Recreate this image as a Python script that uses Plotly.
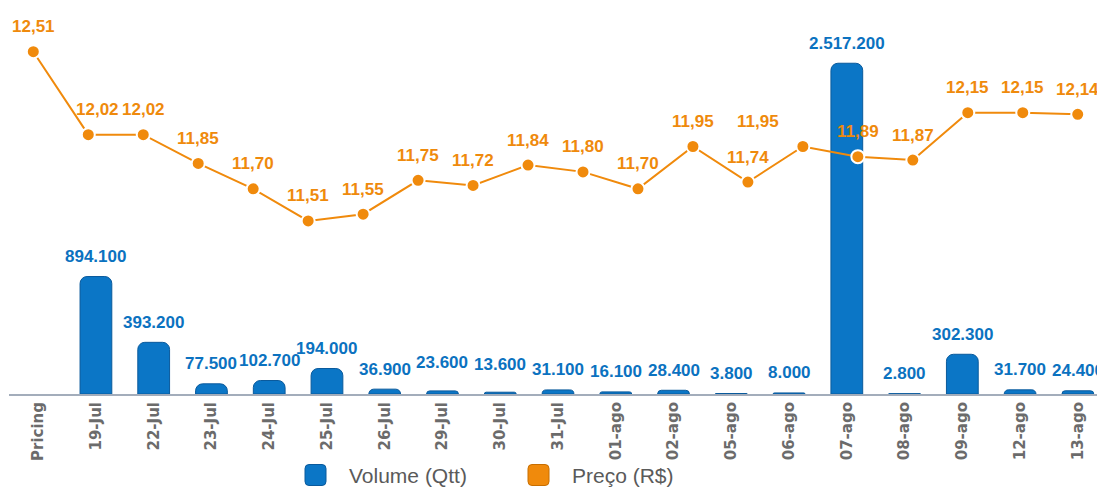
import plotly.graph_objects as go

# ---------------- data ----------------
categories = ["Pricing", "19-Jul", "22-Jul", "23-Jul", "24-Jul", "25-Jul", "26-Jul",
              "29-Jul", "30-Jul", "31-Jul", "01-ago", "02-ago", "05-ago", "06-ago",
              "07-ago", "08-ago", "09-ago", "12-ago", "13-ago"]
volume = [None, 894100, 393200, 77500, 102700, 194000, 36900, 23600, 13600, 31100,
          16100, 28400, 3800, 8000, 2517200, 2800, 302300, 31700, 24400]
price = [12.51, 12.02, 12.02, 11.85, 11.70, 11.51, 11.55, 11.75, 11.72, 11.84,
         11.80, 11.70, 11.95, 11.74, 11.95, 11.89, 11.87, 12.15, 12.15, 12.14]
price_index = list(range(len(price)))

series_names = ["Volume (Qtt)", "Preço (R$)"]

# ---------------- style ----------------
# page body has an 8px margin, so the figure is sized to fit the rest of the window
PAGE_OFF = 8
W, H = 1097, 481
ML, MR, MT, MB = 1, 0, 0, 95
PLOT_L, PLOT_R = PAGE_OFF + ML, PAGE_OFF + W - MR
PLOT_T, PLOT_B = PAGE_OFF + MT, PAGE_OFF + H - MB

BLUE = "#0b76c6"
BLUE_EDGE = "#0a5a9c"
ORANGE = "#f08a0c"
LBL_BLUE = "#0b72c0"
LBL_ORANGE = "#ef8a0c"
TICK_GRAY = "#6b6b6b"
LEG_GRAY = "#5a5a5a"
LABEL_FONT = "Liberation Sans, Arial, sans-serif"

vol_label_shift = 20
vol_label_extra = {7: 8, 8: 8}
price_label_shift = 25
price_label_xshift = {1: 9, 14: -45}
LEGEND_Y = 475


def fmt_vol(v):
    return f"{v:,.0f}".replace(",", ".")


def fmt_price(p):
    return f"{p:.2f}".replace(".", ",")


fig = go.Figure()

fig.add_trace(go.Bar(
    x=categories, y=volume, name=series_names[0],
    marker=dict(color=BLUE, line=dict(color=BLUE_EDGE, width=1), cornerradius=7),
    width=0.55, showlegend=False, xaxis="x", yaxis="y",
))

fig.add_trace(go.Scatter(
    x=price_index, y=price, name=series_names[1], mode="lines+markers",
    line=dict(color=ORANGE, width=2),
    marker=dict(size=13, color=ORANGE, line=dict(color="white", width=2)),
    showlegend=False, xaxis="x2", yaxis="y2",
))

annotations = []
for i, v in enumerate(volume):
    if v is None:
        continue
    annotations.append(dict(
        x=categories[i], y=v, xref="x", yref="y", text=fmt_vol(v), showarrow=False,
        yanchor="middle", yshift=vol_label_shift + vol_label_extra.get(i, 0),
        font=dict(family=LABEL_FONT, size=17, color=LBL_BLUE, weight="bold"),
    ))
for j, p in enumerate(price):
    annotations.append(dict(
        x=price_index[j], y=p, xref="x2", yref="y2", text=fmt_price(p), showarrow=False,
        yanchor="middle", yshift=price_label_shift, xshift=price_label_xshift.get(j, 0),
        font=dict(family=LABEL_FONT, size=17, color=LBL_ORANGE, weight="bold"),
    ))


# ---------------- custom legend ----------------
def px_to_paper(px, py):
    return (px - PLOT_L) / (PLOT_R - PLOT_L), (PLOT_B - py) / (PLOT_B - PLOT_T)


def rounded_square(half, r):
    a = half - r
    return (f"M{-a},{-half} L{a},{-half} Q{half},{-half} {half},{-a} "
            f"L{half},{a} Q{half},{half} {a},{half} L{-a},{half} "
            f"Q{-half},{half} {-half},{a} L{-half},{-a} Q{-half},{-half} {-a},{-half} Z")


legend_items = [
    (series_names[0], BLUE, BLUE_EDGE, 315.5, 350),
    (series_names[1], ORANGE, "#c86e00", 538.5, 573),
]
shapes = []
for name, fill, edge, sx, tx in legend_items:
    ax, ay = px_to_paper(sx, LEGEND_Y)
    shapes.append(dict(
        type="path", xref="paper", yref="paper", xsizemode="pixel", ysizemode="pixel",
        xanchor=ax, yanchor=ay, path=rounded_square(10.5, 4),
        fillcolor=fill, line=dict(color=edge, width=1),
    ))
    lx, ly = px_to_paper(tx - 3, LEGEND_Y)
    annotations.append(dict(
        x=lx, y=ly, xref="paper", yref="paper", text=name, showarrow=False,
        xanchor="left", yanchor="middle",
        font=dict(family=LABEL_FONT, size=21, color=LEG_GRAY),
    ))

fig.update_layout(
    width=W, height=H,
    margin=dict(l=ML, r=MR, t=MT, b=MB, pad=0, autoexpand=False),
    paper_bgcolor="white", plot_bgcolor="white",
    showlegend=False,
    xaxis=dict(
        type="category", categoryorder="array", categoryarray=categories,
        range=[-0.505, 18.47], tickangle=-90,
        tickfont=dict(family="DejaVu Sans", size=15, color=TICK_GRAY, weight="bold"),
        showline=True, linecolor="#a3adbb", linewidth=2,
        showgrid=False, zeroline=False, ticks="", fixedrange=True,
    ),
    xaxis2=dict(
        overlaying="x", range=[-0.442, 19.496], visible=False, anchor="y2",
    ),
    yaxis=dict(range=[0, 2937600], visible=False, showgrid=False, zeroline=False),
    yaxis2=dict(overlaying="y", range=[10.488, 12.768], visible=False, anchor="x2"),
    annotations=annotations,
    shapes=shapes,
)

fig.write_html("out.html")
